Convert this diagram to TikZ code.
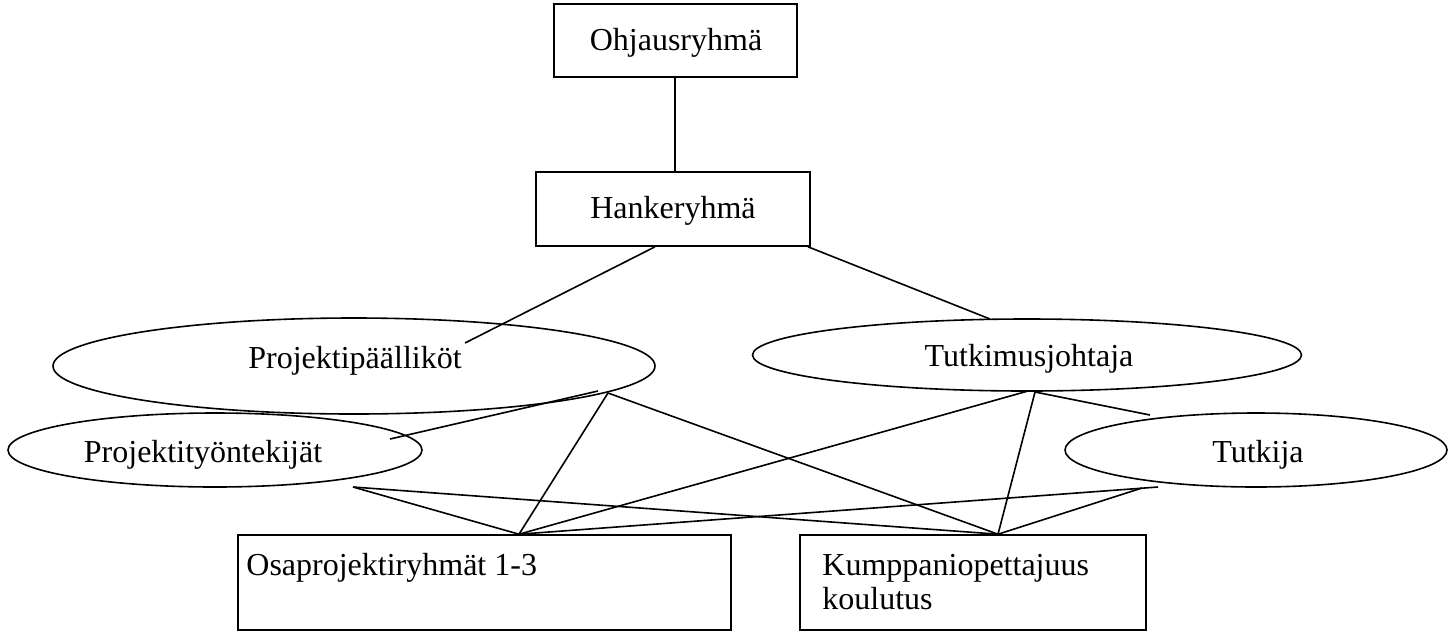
\documentclass[tikz,border=0pt]{standalone}
\usepackage{fontspec}
\setmainfont{Liberation Serif}
\usetikzlibrary{shapes.geometric,calc}
\begin{document}
\begin{tikzpicture}[x=0.5pt,y=-0.5pt,
  every node/.style={font=\fontsize{16}{17}\selectfont},
  box/.style={draw,line width=0.8pt,rectangle,inner sep=0pt},
  oval/.style={draw,line width=0.8pt,ellipse,inner sep=0pt},
  conn/.style={line width=0.8pt},
  lbl/.style={inner sep=0pt,anchor=base}]
\useasboundingbox (0,0) rectangle (1454,632);
% boxes
\node[box,minimum width=121.5pt,minimum height=36.5pt] (ohj) at (675.5,40.5) {};
\node[lbl] at (676,50) {Ohjausryhmä};
\node[box,minimum width=137pt,minimum height=37pt] (han) at (673,209) {};
\node[lbl] at (673,218) {Hankeryhmä};
% ellipses
\node[oval,minimum width=301pt,minimum height=48pt] (pp) at (354,366) {};
\node[lbl] at (355,368) {Projektipäälliköt};
\node[oval,minimum width=274.5pt,minimum height=36pt] (tj) at (1027,355) {};
\node[lbl] at (1029,366) {Tutkimusjohtaja};
\node[oval,minimum width=207pt,minimum height=37pt] (pt) at (215,450) {};
\node[lbl] at (203,462) {Projektityöntekijät};
\node[oval,minimum width=191pt,minimum height=37pt] (tu) at (1256,450) {};
\node[lbl] at (1258,462) {Tutkija};
% bottom boxes
\node[box,minimum width=246.5pt,minimum height=47.5pt] (osa) at (484.5,582.5) {};
\node[lbl,anchor=base west] at (246,575) {Osaprojektiryhmät 1-3};
\node[box,minimum width=173pt,minimum height=47.5pt] (kum) at (973,582.5) {};
\node[lbl,anchor=base west] at (822,575) {Kumppaniopettajuus};
\node[lbl,anchor=base west] at (822,609) {koulutus};
% connector end points
\coordinate (ohjB) at ($(ohj.south)+(-0.5,0)$);
\coordinate (hanL) at ($(han.south)+(-18,0)$);
\coordinate (hanR) at ($(han.south)+(135,0)$);
\coordinate (ppIn) at (465,343);
\coordinate (tjTop) at (990,319);
\coordinate (ppA) at (598,391);
\coordinate (ppB) at (608,393);
\coordinate (ptIn) at (390,439);
\coordinate (tjA) at (1028,391);
\coordinate (tjB) at (1035,392);
\coordinate (tuTop) at (1150,415);
\coordinate (ptB) at (353,487);
\coordinate (tuA) at (1158,487);
\coordinate (tuB) at (1142,488);
\coordinate (osaT) at ($(osa.north)+(34.5,0)$);
\coordinate (kumT) at ($(kum.north)+(25,0)$);
% connectors
\draw[conn,line width=1pt] (ohjB) -- (ohjB |- han.north);
\draw[conn] (hanL) -- (ppIn);
\draw[conn] (hanR) -- (tjTop);
\draw[conn] (ppA) -- (ptIn);
\draw[conn] (ppB) -- (osaT);
\draw[conn] (ppB) -- (kumT);
\draw[conn] (tjA) -- (osaT);
\draw[conn] (tjB) -- (kumT);
\draw[conn] (tjB) -- (tuTop);
\draw[conn] (ptB) -- (osaT);
\draw[conn] (ptB) -- (kumT);
\draw[conn] (tuA) -- (osaT);
\draw[conn] (tuB) -- (kumT);
\end{tikzpicture}
\end{document}
